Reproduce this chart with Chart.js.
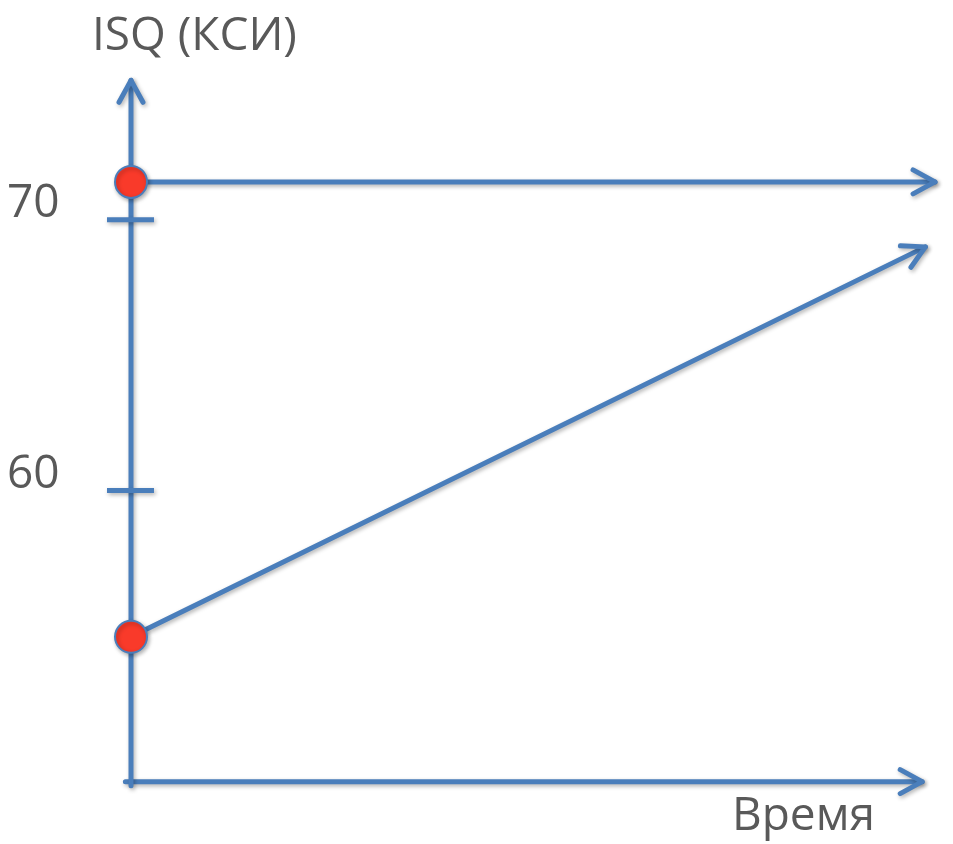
<!DOCTYPE html>
<html>
<head>
<meta charset="utf-8">
<title>ISQ (КСИ)</title>
<script src="https://cdn.jsdelivr.net/npm/chart.js@4/dist/chart.umd.min.js"></script>
<style>
  html, body { margin: 0; padding: 0; background: #ffffff; }
  canvas { display: block; }
</style>
</head>
<body>
<canvas id="isq-chart" width="953" height="844"></canvas>
<script>
// Chart data
const highTime = [0, 10];
const highIsq = [71.4, 71.4];
const riseTime = [0, 9.88];
const riseIsq = [54.6, 69.0];
const yTicks = [60, 70];
const yRange = [49.2, 75.2];
const xRange = [0, 10];
// axis arrows (time, ISQ)
const yAxisTime = [0, 0];
const yAxisIsq = [49.1, 75.15];
const xAxisTime = [-0.07, 9.84];
const xAxisIsq = [49.25, 49.25];

const yTitle = "ISQ (КСИ)";
const xTitle = "Время";

const blue = "#4a7ebb";
const red = "#f93a2a";
const textColor = "#595959";
const font = "46px 'Open Sans'";

function toPoints(xs, ys) {
    return xs.map(function (x, i) { return { x: x, y: ys[i] }; });
}

function lineSet(label, xs, ys, dot) {
    return {
        label: label,
        data: toPoints(xs, ys),
        borderColor: blue,
        borderWidth: 5,
        borderCapStyle: "round",
        pointRadius: dot ? [16, 0] : 0,
        pointBackgroundColor: red,
        pointBorderColor: blue,
        pointBorderWidth: 2,
        showLine: true,
        clip: false,
        arrow: true
    };
}

// Shadows, arrowheads, ticks and text
const decorPlugin = {
    id: "decor",
    beforeDatasetsDraw(chart) {
        const ctx = chart.ctx;
        ctx.save();
        ctx.shadowColor = "rgba(0, 0, 0, 0.3)";
        ctx.shadowBlur = 4;
        ctx.shadowOffsetX = 1.5;
        ctx.shadowOffsetY = 2;
    },
    afterDatasetsDraw(chart) {
        const ctx = chart.ctx;
        const xs = chart.scales.x;
        const ys = chart.scales.y;

        // arrowheads at the end of each line
        chart.data.datasets.forEach(function (ds, i) {
            if (!ds.arrow) return;
            const pts = chart.getDatasetMeta(i).data;
            const a = pts[pts.length - 2];
            const b = pts[pts.length - 1];
            const ang = Math.atan2(b.y - a.y, b.x - a.x);
            const len = 25;
            const spread = 0.5;
            ctx.strokeStyle = blue;
            ctx.lineWidth = 5;
            ctx.lineCap = "round";
            ctx.lineJoin = "round";
            ctx.beginPath();
            ctx.moveTo(b.x - len * Math.cos(ang - spread), b.y - len * Math.sin(ang - spread));
            ctx.lineTo(b.x, b.y);
            ctx.lineTo(b.x - len * Math.cos(ang + spread), b.y - len * Math.sin(ang + spread));
            ctx.stroke();
        });

        // tick marks on the ISQ axis
        const ax = xs.getPixelForValue(0);
        ctx.lineCap = "butt";
        yTicks.forEach(function (t) {
            const py = ys.getPixelForValue(t);
            ctx.beginPath();
            ctx.moveTo(ax - 24, py);
            ctx.lineTo(ax + 23, py);
            ctx.stroke();
        });
        ctx.restore();

        // text
        ctx.save();
        ctx.fillStyle = textColor;
        ctx.font = font;
        ctx.textAlign = "left";
        ctx.textBaseline = "alphabetic";
        yTicks.forEach(function (t) {
            ctx.fillText(String(t), 7, ys.getPixelForValue(t) - 3);
        });
        ctx.fillText(yTitle, 92, 50);
        ctx.fillText(xTitle, 732, 830);
        ctx.restore();
    }
};

const ctx = document.getElementById("isq-chart").getContext("2d");
const isqChart = new Chart(ctx, {
    type: "scatter",
    data: {
        datasets: [
            lineSet("Высокая стабильность", highTime, highIsq, true),
            lineSet("Рост стабильности", riseTime, riseIsq, true),
            lineSet("ISQ", yAxisTime, yAxisIsq, false),
            lineSet("Время", xAxisTime, xAxisIsq, false)
        ]
    },
    options: {
        responsive: false,
        animation: false,
        events: [],
        layout: { padding: { left: 131, right: 13, top: 79, bottom: 61 } },
        plugins: {
            legend: { display: false },
            tooltip: { enabled: false }
        },
        scales: {
            x: { type: "linear", min: xRange[0], max: xRange[1], display: false },
            y: { type: "linear", min: yRange[0], max: yRange[1], display: false }
        }
    },
    plugins: [decorPlugin]
});
</script>
</body>
</html>
